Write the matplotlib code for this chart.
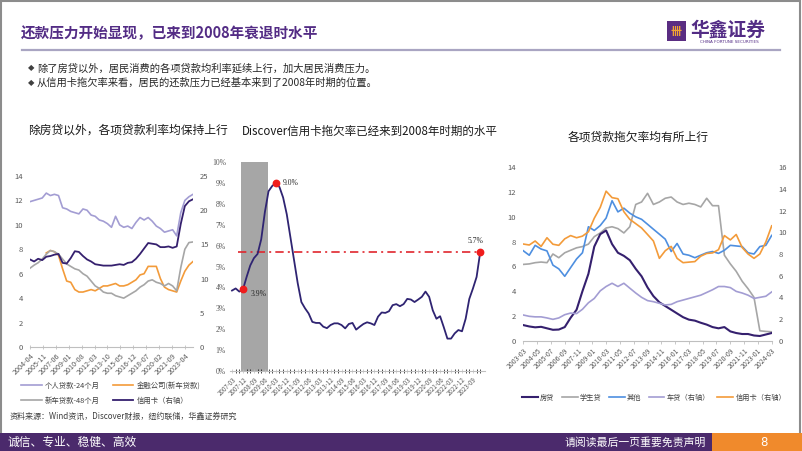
import numpy as np
import pandas as pd
import matplotlib
matplotlib.use('Agg')
import matplotlib.pyplot as plt
from matplotlib.patches import Rectangle
from matplotlib.lines import Line2D

plt.rcParams['font.family'] = ['Noto Sans CJK SC', 'DejaVu Sans']
plt.rcParams['axes.unicode_minus'] = False

# ---------------- texts ----------------
page_title = "还款压力开始显现，已来到2008年衰退时水平"
bullets = ["除了房贷以外，居民消费的各项贷款均利率延续上行，加大居民消费压力。",
           "从信用卡拖欠率来看，居民的还款压力已经基本来到了2008年时期的位置。"]
title_left = "除房贷以外，各项贷款利率均保持上行"
title_mid = "Discover信用卡拖欠率已经来到2008年时期的水平"
title_right = "各项贷款拖欠率均有所上行"
source_text = "资料来源：Wind资讯，Discover财报，纽约联储，华鑫证券研究"
footer_left = "诚信、专业、稳健、高效"
footer_right = "请阅读最后一页重要免责声明"
page_no = "8"

# ---------------- left chart data (semiannual, from 2004-04) ----------------
left_start = '2004-04-01'
left_xticks = ['2004-04', '2005-11', '2007-06', '2009-01', '2010-08', '2012-03', '2013-10',
               '2015-05', '2016-12', '2018-07', '2020-02', '2021-09', '2023-04']
personal_24m = [11.9, 12.0, 12.1, 12.2, 12.6, 12.4, 12.5, 12.4, 11.4, 11.3, 11.1, 11.0, 10.9, 11.3,
                11.2, 10.8, 10.7, 10.4, 10.3, 10.1, 9.8, 10.7, 10.0, 9.8, 9.9, 9.7, 10.2, 10.6,
                10.4, 10.6, 10.3, 9.9, 9.7, 9.4, 9.5, 9.6, 9.1, 11.0, 12.0, 12.3, 12.5]
finance_newcar = [np.nan, np.nan, np.nan, np.nan, 7.7, 7.9, 7.8, 7.5, 6.4, 5.4, 5.3, 4.7, 4.5, 4.5,
                  4.6, 4.7, 4.6, 4.8, 5.0, 5.0, 5.1, 5.2, 5.0, 5.0, 5.1, 5.3, 5.5, 5.9,
                  6.0, 6.6, 6.6, 6.6, 5.6, 4.9, 4.7, 4.6, 4.5, 5.4, 6.2, 6.7, 7.0]
newcar_48m = [6.45, 6.7, 6.9, 7.2, 7.6, 7.9, 7.8, 7.6, 7.2, 6.8, 6.6, 6.4, 6.3, 6.0,
              5.8, 5.4, 5.0, 4.8, 4.5, 4.4, 4.4, 4.2, 4.1, 4.0, 4.2, 4.4, 4.6, 4.9,
              5.1, 5.4, 5.5, 5.3, 5.2, 5.0, 5.2, 5.0, 4.6, 6.5, 8.0, 8.55, 8.6]
creditcard_rate = [12.8, 12.5, 12.9, 12.7, 13.2, 13.3, 13.5, 13.6, 12.3, 12.2, 13.0, 14.0, 13.9, 13.3,
                   12.8, 12.5, 12.1, 12.0, 11.9, 11.9, 11.9, 12.0, 12.1, 12.0, 12.3, 12.4, 12.9, 13.6,
                   14.4, 15.2, 15.1, 15.0, 14.6, 14.6, 14.7, 14.5, 14.7, 18.0, 20.6, 21.3, 21.6]
left_names = ['个人贷款-24个月', '金融公司(新车贷款)', '新车贷款-48个月', '信用卡（右轴）']

# ---------------- middle chart data (quarterly, from 2007-03) ----------------
mid_start = '2007-03-01'
mid_xticks = ['2007-03', '2007-12', '2008-09', '2009-06', '2010-03', '2010-12', '2011-09', '2012-06',
              '2013-03', '2013-12', '2014-09', '2015-06', '2016-03', '2016-12', '2017-09', '2018-06',
              '2019-03', '2019-12', '2020-09', '2021-06', '2022-03', '2022-12', '2023-09']
discover_delinq = [3.85, 3.95, 3.8, 3.9, 4.5, 5.05, 5.4, 5.6, 6.3, 7.6, 8.6, 8.85, 9.0, 8.8,
                   8.3, 7.5, 6.4, 5.3, 4.2, 3.3, 3.0, 2.75, 2.35, 2.3, 2.3, 2.12, 2.05, 2.2,
                   2.28, 2.28, 2.2, 2.04, 2.25, 2.3, 1.98, 2.12, 2.25, 2.33, 2.28, 2.2, 2.6, 2.8,
                   2.78, 2.86, 3.15, 3.2, 3.1, 3.2, 3.45, 3.42, 3.3, 3.42, 3.55, 3.8, 3.55, 2.9,
                   2.5, 2.62, 2.1, 1.55, 1.55, 1.8, 1.96, 1.9, 2.5, 3.45, 3.95, 4.5, 5.7]
recession = ('2007-12', '2009-06')
highlight = ['2007-12', '2010-03', '2024-03']
ref_level = 5.7

# ---------------- right chart data (semiannual, from 2003-03) ----------------
right_start = '2003-03-01'
right_xticks = ['2003-03', '2004-05', '2005-07', '2006-09', '2007-11', '2009-01', '2010-03', '2011-05',
                '2012-07', '2013-09', '2014-11', '2016-01', '2017-03', '2018-05', '2019-07', '2020-09',
                '2021-11', '2023-01', '2024-03']
mortgage = [1.26, 1.15, 1.08, 1.12, 1.0, 0.88, 0.9, 1.1, 1.85, 2.5, 4.0, 5.4, 7.6, 8.6, 8.9,
            7.8, 7.1, 6.85, 6.5, 5.8, 5.2, 4.3, 3.6, 3.1, 2.8, 2.5, 2.2, 1.9, 1.7, 1.62,
            1.45, 1.3, 1.1, 1.0, 1.1, 0.75, 0.62, 0.54, 0.54, 0.42, 0.38, 0.5, 0.62]
student = [6.16, 6.2, 6.3, 6.35, 6.3, 7.0, 6.7, 7.1, 7.3, 7.5, 7.6, 7.8, 8.4, 8.7, 9.1,
           9.2, 9.05, 8.7, 9.2, 11.0, 11.2, 11.9, 11.0, 11.2, 11.5, 11.6, 11.2, 11.0, 11.1, 11.0,
           10.8, 11.5, 10.9, 10.9, 6.9, 6.2, 5.6, 4.8, 4.2, 3.5, 0.8, 0.75, 0.72]
other = [7.26, 6.9, 7.7, 7.4, 7.25, 6.1, 5.8, 5.2, 5.9, 6.6, 7.1, 9.2, 8.9, 9.3, 9.9,
         11.3, 10.4, 10.7, 10.3, 10.0, 9.8, 9.4, 9.0, 8.6, 8.2, 7.2, 7.85, 7.0, 6.9, 6.7,
         6.9, 7.1, 7.2, 7.05, 7.3, 7.7, 7.65, 7.6, 7.1, 7.0, 7.6, 7.7, 8.5]
auto = [2.37, 2.25, 2.2, 2.2, 2.1, 1.97, 2.1, 2.4, 2.55, 2.5, 2.9, 3.5, 3.9, 4.6, 5.0,
        5.3, 5.0, 5.3, 4.85, 4.4, 4.0, 3.7, 3.6, 3.45, 3.3, 3.35, 3.6, 3.75, 3.9, 4.05,
        4.2, 4.45, 4.7, 5.0, 5.0, 4.9, 4.55, 4.4, 4.2, 3.9, 4.0, 4.1, 4.5]
creditcard_delinq = [8.92, 8.83, 9.2, 8.7, 9.5, 8.9, 8.8, 9.4, 9.7, 9.5, 9.65, 10.05, 11.3, 12.3, 13.8,
                     13.2, 13.1, 11.9, 11.2, 10.8, 10.4, 9.8, 9.2, 7.6, 8.3, 8.7, 7.6, 7.2, 7.25, 7.3,
                     7.8, 8.05, 8.1, 8.4, 9.7, 9.3, 9.8, 8.6, 8.0, 7.6, 8.0, 9.1, 10.6]
right_names = ['房贷', '学生贷', '其他', '车贷（右轴）', '信用卡（右轴）']

# ---------------- styles ----------------
W, H = 802, 451
PURPLE = '#532c85'
DARK = '#35206e'
LAV = '#a39dd3'
ORANGE = '#f39b3a'
GRAY = '#a6a6a6'
BLUE = '#4e8fe0'
TICKC = '#595959'
AXC = '#bfbfbf'


def fx(px):
    return px / W


def fy(py):
    return 1 - py / H


fig = plt.figure(figsize=(W / 100, H / 100), dpi=100)
fig.patch.set_facecolor('white')

# frame
fig.patches.append(Rectangle((0.001, 0.001), 0.997, 0.997, transform=fig.transFigure,
                             fill=False, edgecolor='#8c8c8c', lw=1.5, zorder=0))

# header
fig.text(fx(21), fy(33), page_title, fontsize=10.5, fontweight='bold', color=PURPLE,
         ha='left', va='center')
fig.patches.append(Rectangle((fx(667), fy(41)), 19 / W, 20 / H, transform=fig.transFigure,
                             facecolor='#5a2d82', edgecolor='none'))
fig.text(fx(676.5), fy(31.5), '卌', fontsize=8, fontweight='bold', color='#f2a531',
         ha='center', va='center')
fig.text(fx(690), fy(30), '华鑫证券', fontsize=13.5, fontweight='bold', color=PURPLE,
         ha='left', va='center')
fig.text(fx(729), fy(42), 'CHINA FORTUNE SECURITIES', fontsize=3.0, color=PURPLE,
         ha='center', va='center', family=['DejaVu Sans'])
fig.add_artist(Line2D([fx(22), fx(780)], [fy(49.5), fy(49.5)], transform=fig.transFigure,
                      color='#a9a5c2', lw=1.6))
for i, b in enumerate(bullets):
    y = 68 + i * 15
    fig.text(fx(28), fy(y), '◆', fontsize=6, color='#404040', ha='left', va='center',
             family=['DejaVu Sans'])
    fig.text(fx(37), fy(y), b, fontsize=7.4, color='#262626', ha='left', va='center')

# chart titles
fig.text(fx(128), fy(130), title_left, fontsize=8.5, color='#1a1a1a', ha='center', va='center',
         fontweight='medium')
fig.text(fx(370), fy(131), title_mid, fontsize=8.3, color='#1a1a1a', ha='center', va='center',
         fontweight='medium')
fig.text(fx(638), fy(137), title_right, fontsize=8.5, color='#1a1a1a', ha='center', va='center',
         fontweight='medium')


def style_axis(ax):
    for s in ['top', 'left', 'right']:
        ax.spines[s].set_visible(False)
    ax.spines['bottom'].set_color(AXC)
    ax.spines['bottom'].set_linewidth(0.8)
    ax.tick_params(axis='both', colors=AXC, labelcolor=TICKC)
    ax.tick_params(axis='y', length=0, labelsize=5.5)
    ax.patch.set_alpha(0)


# ---------------- left chart ----------------
ax1 = fig.add_axes([fx(30), fy(347), 163 / W, 171 / H])
ax1r = ax1.twinx()
ld = pd.date_range(left_start, periods=len(personal_24m), freq='6MS')
h_p, = ax1.plot(ld, personal_24m, color=LAV, lw=1.2)
h_f, = ax1.plot(ld, finance_newcar, color=ORANGE, lw=1.2)
h_n, = ax1.plot(ld, newcar_48m, color=GRAY, lw=1.2)
h_c, = ax1r.plot(ld, creditcard_rate, color=DARK, lw=1.3)
for h, n in zip([h_p, h_f, h_n, h_c], left_names):
    h.set_label(n)
ax1.set_ylim(0, 14)
ax1.set_yticks(np.arange(0, 15, 2))
ax1r.set_ylim(0, 25)
ax1r.set_yticks(np.arange(0, 26, 5))
ax1.set_xlim(ld[0], ld[-1])
ax1.set_xticks(pd.to_datetime(left_xticks))
ax1.set_xticklabels(left_xticks, rotation=45, ha='right', va='top', rotation_mode='anchor',
                    fontsize=5.2)
for a in (ax1, ax1r):
    style_axis(a)
ax1.tick_params(axis='x', direction='inout', length=3, width=0.6, pad=2)
ax1.tick_params(axis='y', pad=5)
ax1r.tick_params(axis='y', pad=5)
ax1r.spines['bottom'].set_visible(False)
ax1.legend(handles=[h_p, h_n, h_f, h_c], ncol=2, loc='upper left',
           bbox_to_anchor=(fx(21), fy(382)), bbox_transform=fig.transFigure, frameon=False,
           fontsize=5.3, handlelength=2.8, handletextpad=0.4, columnspacing=1.8,
           labelspacing=0.95, borderpad=0, borderaxespad=0, labelcolor='#404040')

# ---------------- middle chart ----------------
ax2 = fig.add_axes([fx(230), fy(371), 255 / W, 209 / H])
md = pd.date_range(mid_start, periods=len(discover_delinq), freq='3MS')
mlab = [d.strftime('%Y-%m') for d in md]
xm = np.arange(len(discover_delinq))
r0, r1 = mlab.index(recession[0]), mlab.index(recession[1])
ax2.axvspan(r0 - 0.6, r1 + 0.9, color='#a6a6a6', lw=0, zorder=0)
ax2.plot(xm, discover_delinq, color='#2f2472', lw=1.3, zorder=3)
hi = [mlab.index(h) for h in highlight]
ax2.hlines(ref_level, 1.7, hi[2], colors='#e0262d', lw=1.2,
           linestyles=(0, (5, 2.5, 1.2, 2.5)), zorder=2)
dv = np.array(discover_delinq)
ax2.plot(xm[hi], dv[hi], 'o', color='#f01c1c', ms=4.6, zorder=4)
lab_font = ['Liberation Serif', 'DejaVu Serif']
ax2.text(hi[0] + 2.2, dv[hi[0]] - 0.22, f'{dv[hi[0]]:.1f}%', fontsize=5.5, family=lab_font,
         color='#262626', ha='left', va='center')
ax2.text(hi[1] + 2.0, dv[hi[1]], f'{dv[hi[1]]:.1f}%', fontsize=5.5, family=lab_font,
         color='#262626', ha='left', va='center')
ax2.text(hi[2] - 1.2, dv[hi[2]] + 0.35, f'{dv[hi[2]]:.1f}%', fontsize=5.5, family=lab_font,
         color='#262626', ha='center', va='bottom')
ax2.set_ylim(0, 10)
ax2.set_yticks(np.arange(0, 11, 1))
ax2.set_yticklabels([f'{v}%' for v in range(0, 11)], fontfamily=lab_font)
ax2.set_xlim(-0.55, 69.3)
ax2.set_xticks(xm, minor=True)
ax2.set_xticks([mlab.index(t) for t in mid_xticks])
ax2.set_xticklabels(mid_xticks, rotation=45, ha='right', va='top', rotation_mode='anchor',
                    fontsize=4.4)
style_axis(ax2)
ax2.tick_params(axis='y', pad=3)
ax2.tick_params(axis='x', which='both', direction='inout', length=2.5, width=0.5, pad=2)

# ---------------- right chart ----------------
ax3 = fig.add_axes([fx(523.3), fy(340.7), 248.4 / W, 173.4 / H])
ax3r = ax3.twinx()
rd = pd.date_range(right_start, periods=len(mortgage), freq='6MS')
g_m, = ax3.plot(rd, mortgage, color=DARK, lw=1.5, zorder=5)
g_s, = ax3.plot(rd, student, color=GRAY, lw=1.2)
g_o, = ax3.plot(rd, other, color=BLUE, lw=1.2)
g_a, = ax3r.plot(rd, auto, color=LAV, lw=1.2)
g_c, = ax3r.plot(rd, creditcard_delinq, color=ORANGE, lw=1.2)
for h, n in zip([g_m, g_s, g_o, g_a, g_c], right_names):
    h.set_label(n)
ax3.set_ylim(0, 14)
ax3.set_yticks(np.arange(0, 15, 2))
ax3r.set_ylim(0, 16)
ax3r.set_yticks(np.arange(0, 17, 2))
ax3.set_xlim(rd[0], rd[-1])
ax3.set_xticks(pd.to_datetime(right_xticks))
ax3.set_xticklabels(right_xticks, rotation=45, ha='right', va='top', rotation_mode='anchor',
                    fontsize=5.0)
for a in (ax3, ax3r):
    style_axis(a)
ax3r.spines['bottom'].set_visible(False)
ax3.tick_params(axis='x', direction='out', length=2.5, width=0.6, pad=2)
ax3.tick_params(axis='y', pad=5)
ax3r.tick_params(axis='y', pad=5)
ax3.legend(handles=[g_m, g_s, g_o, g_a, g_c], ncol=5, loc='center',
           bbox_to_anchor=(fx(654), fy(398)), bbox_transform=fig.transFigure, frameon=False,
           fontsize=5.2, handlelength=2.2, handletextpad=0.3, columnspacing=1.0,
           borderpad=0, borderaxespad=0, labelcolor='#404040')

# ---------------- footer ----------------
fig.text(fx(10), fy(416), source_text, fontsize=5.8, color='#404040', ha='left', va='center')
fig.patches.append(Rectangle((0, 0), 1, 18 / H, transform=fig.transFigure,
                             facecolor='#4b2a6c', edgecolor='none', zorder=1))
fig.patches.append(Rectangle((fx(712), 0), 1 - fx(712), 18 / H, transform=fig.transFigure,
                             facecolor='#f08a2c', edgecolor='none', zorder=2))
fig.text(fx(8), fy(442), footer_left, fontsize=8.5, color='white', ha='left', va='center')
fig.text(fx(706), fy(442), footer_right, fontsize=7.8, color='white', ha='right', va='center')
fig.text(fx(764), fy(442), page_no, fontsize=8.5, color='white', ha='center', va='center',
         family=['DejaVu Sans'])

fig.savefig('out.png', dpi=100)
